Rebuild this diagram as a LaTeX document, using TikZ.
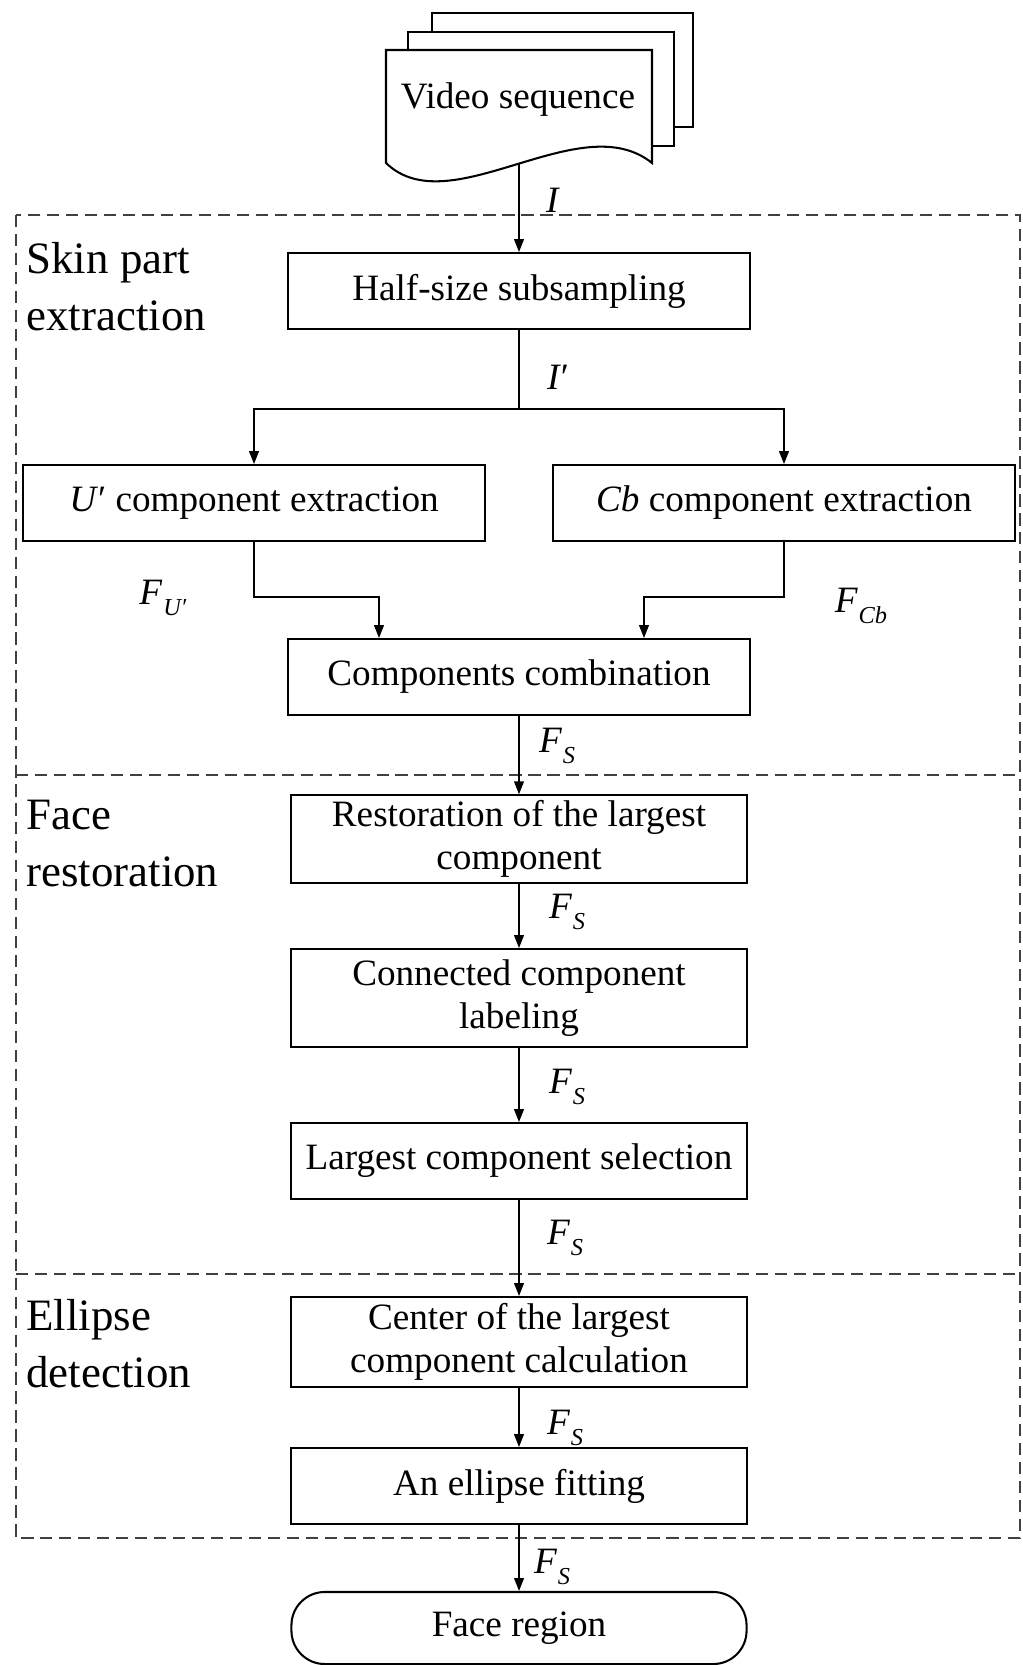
\documentclass[tikz,border=0pt]{standalone}
\usepackage{fontspec}
\setmainfont{Liberation Serif}
\usetikzlibrary{arrows.meta, calc}
\newcommand{\boxfont}{\fontsize{14.5}{16.8}\selectfont}
\newcommand{\partfont}{\fontsize{17.5}{22}\selectfont}
\newcommand{\sig}[2]{\textit{#1}\kern0.3pt\raisebox{-4.5pt}{\fontsize{9.5}{9.5}\selectfont\textit{#2}}}
\tikzset{
  proc/.style={draw, line width=0.8pt, minimum width=177.5pt, align=center, inner sep=2pt, font=\boxfont},
  term/.style={proc, rounded corners=13pt, minimum height=28.1pt},
  sheet/.style={draw, fill=white, line width=0.8pt},
  grp/.style={draw=black!75, line width=0.7pt, dash pattern=on 4.8pt off 2.6pt},
  part/.style={anchor=north west, align=left, inner sep=0pt, font=\partfont},
  lbl/.style={inner sep=0pt, font=\boxfont},
  flow/.style={->, line width=0.6pt},
  link/.style={line width=0.6pt}
}

\begin{document}
\begin{tikzpicture}[x=0.39pt, y=-0.39pt, >={Triangle[length=5pt,width=3.8pt]}]
  \useasboundingbox (0,0) rectangle (1022,1665);
  % stages
  \draw[grp] (16,215) rectangle (1020,1538);
  \draw[grp] (16,775) -- (1020,775);
  \draw[grp] (16,1274) -- (1020,1274);
  \node[part] (skin) at (26,242) {Skin part\\extraction};
  \node[part] (restore) at (26,800) {Face\\restoration};
  \node[part] (detect) at (26,1299) {Ellipse\\detection};
  % input frames
  \draw[sheet] (432,13) rectangle (693,127);
  \draw[sheet] (408,32) rectangle (674,146);
  \draw[sheet] (386,163) -- (386,50) -- (652,50) -- (652,163)
    .. controls (580,105) and (450,225) .. (386,163) -- cycle;
  \node[font=\boxfont] (vid) at (518,100) {Video sequence};
  \coordinate (vidout) at (519,164);
  % skin part extraction
  \node[proc, minimum width=180.2pt, minimum height=29.6pt] (half) at (519,291) {Half-size subsampling};
  \coordinate (split) at (519,409);
  \node[proc, minimum width=180.2pt, minimum height=29.6pt] (uc) at (254,503) {\textit{U}′ component extraction};
  \node[proc, minimum width=180.2pt, minimum height=29.6pt] (cb) at (784,503) {\textit{Cb} component extraction};
  \coordinate (jl) at (379,597);
  \coordinate (jr) at (644,597);
  \node[proc, minimum width=180.2pt, minimum height=29.6pt] (comb) at (519,677) {Components combination};
  % face restoration
  \node[proc, minimum height=32.8pt] (rest) at (519,839) {Restoration of the largest\\component};
  \node[proc, minimum height=38.2pt] (conn) at (519,998) {Connected component\\labeling};
  \node[proc, minimum height=29.6pt] (lsel) at (519,1161) {Largest component selection};
  % ellipse detection
  \node[proc, minimum height=35.1pt] (cent) at (519,1342) {Center of the largest\\component calculation};
  \node[proc, minimum height=29.6pt] (efit) at (519,1486) {An ellipse fitting};
  \node[term] (face) at (519,1628) {Face region};
  % connectors
  \draw[flow] (vidout) -- (half);
  \draw[link] (half) -- (split);
  \draw[flow] (split) -| (uc);
  \draw[flow] (split) -| (cb);
  \draw[flow] (uc) |- (jl) -- (jl |- comb.north);
  \draw[flow] (cb) |- (jr) -- (jr |- comb.north);
  \foreach \a/\b in {comb/rest, rest/conn, conn/lsel, lsel/cent, cent/efit, efit/face}
    \draw[flow] (\a) -- (\b);
  % signal labels
  \node[lbl] (li) at (553,200) {\textit{I}};
  \node[lbl] (lip) at (558,377) {\textit{I}′};
  \node[lbl] (lfu) at (163,598) {\sig{F}{U′}};
  \node[lbl] (lfcb) at (861,606) {\sig{F}{Cb}};
  \foreach \x/\y [count=\i] in {557/746, 567/912, 567/1087, 565/1238, 565/1428, 552/1567}
    \node[lbl] (fs\i) at (\x,\y) {\sig{F}{S}};
\end{tikzpicture}
\end{document}
